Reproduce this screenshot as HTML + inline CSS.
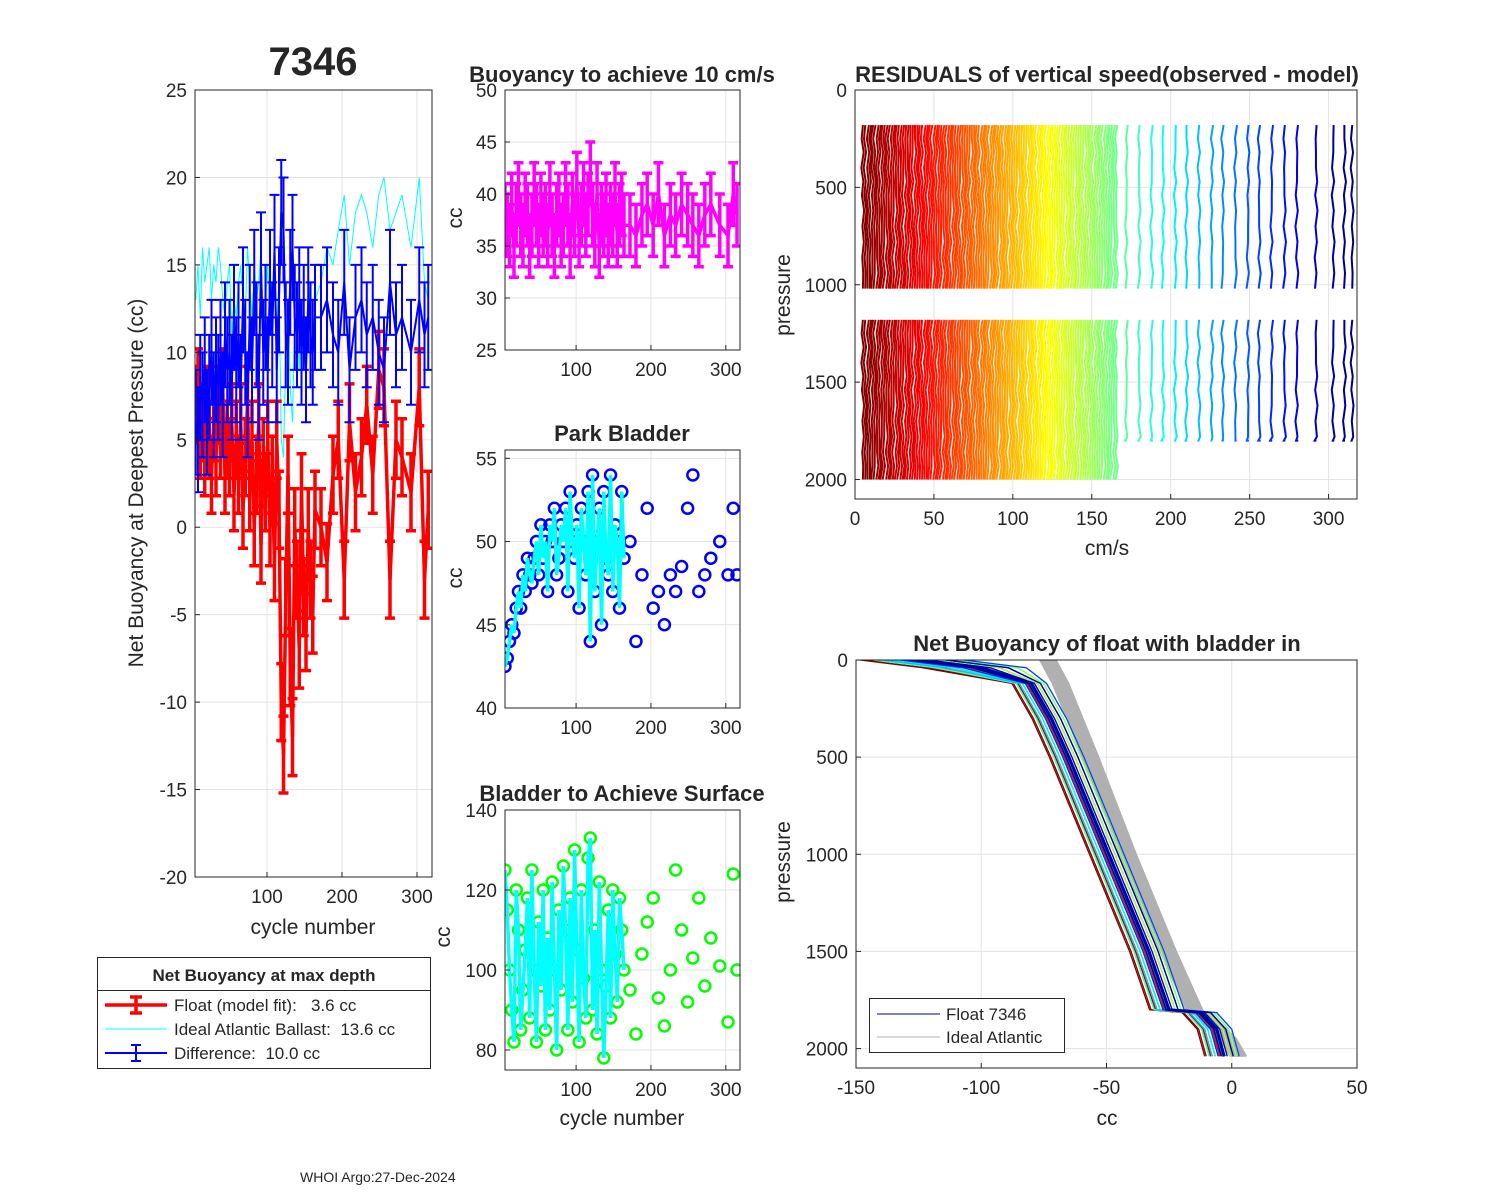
<!DOCTYPE html>
<html><head><meta charset="utf-8"><style>
html,body{margin:0;padding:0;background:#fff}
svg{display:block}
text{font-family:"Liberation Sans",Arial,sans-serif;fill:#262626;white-space:pre}
</style></head><body>
<svg id="fig" width="1500" height="1200" viewBox="0 0 1500 1200" xmlns="http://www.w3.org/2000/svg" xml:space="preserve">
<rect width="1500" height="1200" fill="#fff"/>
<text x="313" y="75" text-anchor="middle" font-size="40" font-weight="bold" fill="#000">7346</text>
<text x="622" y="82" text-anchor="middle" font-size="22" font-weight="bold" fill="#000">Buoyancy to achieve 10 cm/s</text>
<text x="622" y="441" text-anchor="middle" font-size="22" font-weight="bold" fill="#000">Park Bladder</text>
<text x="622" y="801" text-anchor="middle" font-size="22" font-weight="bold" fill="#000">Bladder to Achieve Surface</text>
<text x="1107" y="82" text-anchor="middle" font-size="22" font-weight="bold" fill="#000">RESIDUALS of vertical speed(observed - model)</text>
<text x="1107" y="651" text-anchor="middle" font-size="22" font-weight="bold" fill="#000">Net Buoyancy of float with bladder in</text>
<text transform="translate(143,483) rotate(-90)" text-anchor="middle" font-size="21">Net Buoyancy at Deepest Pressure (cc)</text>
<text x="313" y="934" text-anchor="middle" font-size="21">cycle number</text>
<text transform="translate(462,218) rotate(-90)" text-anchor="middle" font-size="21">cc</text>
<text transform="translate(462,578) rotate(-90)" text-anchor="middle" font-size="21">cc</text>
<text transform="translate(450,937) rotate(-90)" text-anchor="middle" font-size="21">cc</text>
<text x="622" y="1125" text-anchor="middle" font-size="21">cycle number</text>
<text transform="translate(790,295) rotate(-90)" text-anchor="middle" font-size="21">pressure</text>
<text x="1107" y="555" text-anchor="middle" font-size="21">cm/s</text>
<text transform="translate(790,862) rotate(-90)" text-anchor="middle" font-size="21">pressure</text>
<text x="1107" y="1125" text-anchor="middle" font-size="21">cc</text>
<text x="300" y="1182" font-size="14" fill="#000">WHOI Argo:27-Dec-2024</text>
</svg>
<script>
const cycles=[5,8,11,14,17,20,23,26,29,32,35,38,41,44,47,50,53,56,59,62,65,68,71,74,77,80,83,86,89,92,95,98,101,104,107,110,113,116,119,122,125,128,131,134,137,140,143,146,149,152,155,158,161,164,172,180,188,195,203,210,218,226,233,241,249,256,264,272,280,292,303,310,315];
const denseCount=54;
const floatFit=[7,8,5,6,4,7,5,3,6,4,7,5,8,3,5,4,6,2,5,3,6,1,4,7,2,5,0,3,6,-1,4,2,5,0,3,-2,5,1,-10,-13,-4,3,-8,-12,0,-3,-7,2,-4,-6,0,-3,-5,1,0,-2,3,5,-3,6,2,4,7,3,9,8,-3,5,4,2,8,-3,1];
const difference=[6,5,8,7,9,6,8,10,7,9,8,10,7,11,9,10,8,12,9,11,8,13,10,7,12,9,14,11,8,15,10,12,9,14,11,16,9,13,18,17,11,10,14,16,12,11,13,10,12,9,13,11,10,12,12,13,11,10,14,9,12,13,11,12,10,9,14,11,12,10,13,11,12];
const idealBallast=[13,15,12,16,14,15,16,13,15,14,16,15,13,12,14,15,11,13,12,14,15,13,12,16,14,12,15,13,14,16,11,13,15,12,14,13,12,14,5,4,10,13,8,6,12,11,9,13,10,9,14,12,10,13,14,16,15,17,19,15,18,19,18,16,19,20,17,18,19,16,20,14,13];
const floatErr=2.2, diffErr=3;
const buoyancy10=[38,37,36,39,35,38,40,37,36,39,38,35,37,40,38,36,39,37,38,36,40,37,35,38,39,36,37,40,38,35,39,37,41,36,38,40,37,39,42,38,36,40,35,38,37,39,36,38,37,40,36,38,39,37,37,36,38,39,37,40,36,38,37,39,38,37,36,38,39,37,36,40,38];
const buoyErr=3;
const parkBladder=[42.5,43,44,45,44.5,46,47,46,48,47,49,48,47.5,49,50,48,51,49,50,47,51,50,52,48,49,51,50,52,47,53,50,49,51,46,52,50,48,53,44,54,47,50,52,45,53,49,48,54,47,51,50,46,53,49,50,44,48,52,46,47,45,48,47,48.5,52,54,47,48,49,50,48,52,48];
const surfaceBladder=[125,115,100,90,82,120,110,85,95,105,118,88,125,100,82,112,96,120,85,108,90,122,100,80,115,95,126,110,85,118,92,130,105,82,120,98,88,128,133,90,110,84,122,100,78,96,115,88,120,104,92,118,110,100,95,84,104,112,118,93,86,100,125,110,92,103,118,96,108,101,87,124,100];
const residPressUpper=[180,250,320,400,470,540,620,700,780,860,940,1020];
const residPressLower=[1180,1250,1320,1400,1470,1540,1620,1700,1780,1860,1930,2000];
const residValues=[0,0.8,-0.5,1,-0.3,0.6,-0.8,0.3,-0.6,0.4,-0.2,0];
const profPress=[0,40,120,300,500,1000,1500,1800,1815,1900,2040];
const profCC=[-125,-100,-80,-72,-65,-49,-33,-25,-12,-6,-3];
const idealPress=[0,120,500,1000,1500,1815,1825,1950,2040];
const idealCC=[-73,-68,-56,-41,-25,-14,-11,-1,3];

const NS="http://www.w3.org/2000/svg";
const fig=document.getElementById('fig');
function mk(tag,attrs,parent){const e=document.createElementNS(NS,tag);for(const k in attrs)e.setAttribute(k,attrs[k]);(parent||fig).appendChild(e);return e;}
function lin(d0,d1,p0,p1){return v=>p0+(v-d0)*(p1-p0)/(d1-d0);}
let clipN=0;
function axes(name,x,y,w,h,xd,yd,xt,yt,rev){
  const g=mk('g',{});
  const xs=lin(xd[0],xd[1],x,x+w);
  const ys=rev?lin(yd[0],yd[1],y,y+h):lin(yd[0],yd[1],y+h,y);
  mk('rect',{x:x,y:y,width:w,height:h,fill:'#fff'},g);
  xt.forEach(t=>{const px=xs(t);mk('line',{x1:px,x2:px,y1:y,y2:y+h,stroke:'#e3e3e3','stroke-width':1},g);
    const tl=mk('text',{x:px,y:y+h+26,'text-anchor':'middle','font-size':19},g);tl.textContent=t;
    });
  yt.forEach(t=>{const py=ys(t);mk('line',{x1:x,x2:x+w,y1:py,y2:py,stroke:'#e3e3e3','stroke-width':1},g);
    const tl=mk('text',{x:x-8,y:py+7,'text-anchor':'end','font-size':19},g);tl.textContent=t;
    });
  const id='c'+(clipN++);const cp=mk('clipPath',{id:id},g);mk('rect',{x:x,y:y,width:w,height:h},cp);
  const plot=mk('g',{'clip-path':'url(#'+id+')'},g);
  
  const frame=()=>{mk('rect',{x:x,y:y,width:w,height:h,fill:'none',stroke:'#262626','stroke-width':1},g);
    xt.forEach(t=>{const px=xs(t);mk('line',{x1:px,x2:px,y1:y+h,y2:y+h-5,stroke:'#262626'},g);});
    yt.forEach(t=>{const py=ys(t);mk('line',{x1:x,x2:x+5,y1:py,y2:py,stroke:'#262626'},g);});};
  return {xs,ys,plot,frame};
}
function jet(t){t=Math.max(0,Math.min(1,t));const r=Math.min(1,Math.max(0,1.5-Math.abs(4*t-3))),gg=Math.min(1,Math.max(0,1.5-Math.abs(4*t-2))),b=Math.min(1,Math.max(0,1.5-Math.abs(4*t-1)));return 'rgb('+Math.round(r*255)+','+Math.round(gg*255)+','+Math.round(b*255)+')';}
function errSeries(A,vals,err,col,lw,cap,nm){
  let d='';cycles.forEach((c,i)=>{d+=(i?'L':'M')+A.xs(c)+','+A.ys(vals[i]);});
  const p=mk('path',{d:d,fill:'none',stroke:col,'stroke-width':lw},A.plot);
  cycles.forEach((c,i)=>{const px=A.xs(c),y1=A.ys(vals[i]-err),y2=A.ys(vals[i]+err);
    const e=mk('path',{d:'M'+px+','+y1+'L'+px+','+y2+'M'+(px-cap)+','+y1+'L'+(px+cap)+','+y1+'M'+(px-cap)+','+y2+'L'+(px+cap)+','+y2,stroke:col,'stroke-width':lw,fill:'none'},A.plot);
    });
}
const L=axes('net-buoyancy',195,90,237,787,[4,320],[-20,25],[100,200,300],[-20,-15,-10,-5,0,5,10,15,20,25]);
(function(){let d='';cycles.forEach((c,i)=>{d+=(i?'L':'M')+L.xs(c)+','+L.ys(idealBallast[i]);});
 const p=mk('path',{d:d,fill:'none',stroke:'#00ffff','stroke-width':1},L.plot);})();
errSeries(L,floatFit,floatErr,'#ff0000',3.5,5,'float-fit');
errSeries(L,difference,diffErr,'#0000ff',2,5,'difference');
L.frame();
const B=axes('buoyancy-10cms',505,90,235,260,[5,319],[25,50],[100,200,300],[25,30,35,40,45,50]);
errSeries(B,buoyancy10,buoyErr,'#ff00ff',3.5,5,'buoyancy');
B.frame();
const P=axes('park-bladder',505,450,235,258,[5,319],[40,55.5],[100,200,300],[40,45,50,55]);
(function(){let d='';for(let i=0;i<denseCount;i++)d+=(i?'L':'M')+P.xs(cycles[i])+','+P.ys(parkBladder[i]);
 cycles.forEach((c,i)=>{const m=mk('circle',{cx:P.xs(c),cy:P.ys(parkBladder[i]),r:5.5,fill:'none',stroke:'#0000ff','stroke-width':2.5},P.plot);
 });
 const p=mk('path',{d:d,fill:'none',stroke:'#00ffff','stroke-width':3.5},P.plot);})();
P.frame();
const S=axes('surface-bladder',505,810,235,260,[5,319],[75,140],[100,200,300],[80,100,120,140]);
(function(){let d='';for(let i=0;i<denseCount;i++)d+=(i?'L':'M')+S.xs(cycles[i])+','+S.ys(surfaceBladder[i]);
 cycles.forEach((c,i)=>{const m=mk('circle',{cx:S.xs(c),cy:S.ys(surfaceBladder[i]),r:5.5,fill:'none',stroke:'#00ff00','stroke-width':2.5},S.plot);
 });
 const p=mk('path',{d:d,fill:'none',stroke:'#00ffff','stroke-width':3.5},S.plot);})();
S.frame();
const R=axes('residuals',855,90,502,409,[0,318],[0,2100],[0,50,100,150,200,250,300],[0,500,1000,1500,2000],true);
cycles.forEach((c,i)=>{const col=jet(1-(c-5)/310);
  [residPressUpper,residPressLower].forEach((pr,s)=>{
    [0,1.5].forEach(sh=>{ if(sh&&i>=denseCount)return;
    let d='';pr.forEach((p,k)=>{const off=residValues[(k+i)%residValues.length]*((i%2)?1:-1);let pp=p;if(s===1&&c>168&&pp>1800)pp=1800;
      d+=(k?'L':'M')+R.xs(c+sh+off)+','+R.ys(pp);});
    const l=mk('path',{d:d,fill:'none',stroke:col,'stroke-width':2},R.plot);});
  });});
R.frame();
const N=axes('net-buoyancy-profile',856,660,501,408,[-150,50],[0,2100],[-150,-100,-50,0,50],[0,500,1000,1500,2000],true);
cycles.forEach((c,i)=>{const off=(parkBladder[i]-49)*0.9;
  let d='';idealPress.forEach((p,k)=>{d+=(k?'L':'M')+N.xs(idealCC[k]+off*0.6)+','+N.ys(p);});
  const l=mk('path',{d:d,fill:'none',stroke:'#b0b0b0','stroke-width':2},N.plot);});
cycles.forEach((c,i)=>{const off=(parkBladder[i]-49)*1.2;const col=jet(1-(c-5)/310);
  let d='';profPress.forEach((p,k)=>{d+=(k?'L':'M')+N.xs(profCC[k]+off*(k<2?3:1))+','+N.ys(p);});
  const l=mk('path',{d:d,fill:'none',stroke:col,'stroke-width':1.3},N.plot);});
(function(){let d='';profPress.forEach((p,k)=>{d+=(k?'L':'M')+N.xs(profCC[k])+','+N.ys(p);});
 const l=mk('path',{d:d,fill:'none',stroke:'#0000a0','stroke-width':3},N.plot);})();
N.frame();
(function(){const g=mk('g',{});
 mk('rect',{x:97.5,y:957.5,width:333,height:111,fill:'#fff',stroke:'#262626'},g);
 mk('line',{x1:97.5,x2:430.5,y1:990.5,y2:990.5,stroke:'#262626'},g);
 const t=mk('text',{x:264,y:981,'text-anchor':'middle','font-size':17,'font-weight':'bold',fill:'#000'},g);t.textContent='Net Buoyancy at max depth';
 mk('path',{d:'M105,1005H167M136,997V1013M130,997H142M130,1013H142',stroke:'#ff0000','stroke-width':3.5,fill:'none'},g);
 mk('line',{x1:105,x2:167,y1:1029,y2:1029,stroke:'#00ffff','stroke-width':1},g);
 mk('path',{d:'M105,1053H167M136,1045V1061M131,1045H141M131,1061H141',stroke:'#0000ff','stroke-width':2,fill:'none'},g);
 [['Float (model fit):   3.6 cc',1011],['Ideal Atlantic Ballast:  13.6 cc',1035],['Difference:  10.0 cc',1059]].forEach(a=>{const e=mk('text',{x:174,y:a[1],'font-size':17,fill:'#000'},g);e.textContent=a[0];
  });
 const g2=mk('g',{});
 mk('rect',{x:869.5,y:998.5,width:195,height:54,fill:'#fff',stroke:'#262626'},g2);
 mk('line',{x1:877,x2:940,y1:1014,y2:1014,stroke:'#0000a0','stroke-width':1},g2);
 mk('line',{x1:877,x2:940,y1:1037,y2:1037,stroke:'#b0b0b0','stroke-width':1},g2);
 [['Float 7346',1020],['Ideal Atlantic',1043]].forEach(a=>{const e=mk('text',{x:946,y:a[1],'font-size':17,fill:'#000'},g2);e.textContent=a[0];
  });
})();
</script>
</body></html>
